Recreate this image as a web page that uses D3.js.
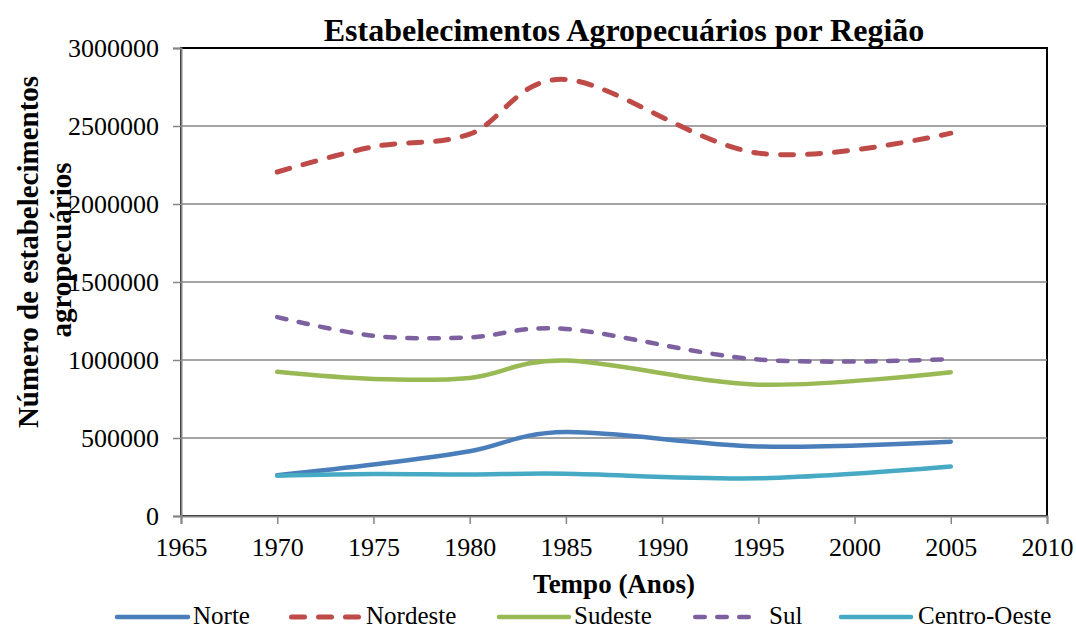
<!DOCTYPE html>
<html>
<head>
<meta charset="utf-8">
<script src="https://cdn.jsdelivr.net/npm/d3@7"></script>
<style>
  body { margin: 0; background: #fff; }
  svg text { font-family: "Liberation Serif", "Times New Roman", serif; fill: #000; }
</style>
</head>
<body>
<div id="chart"></div>
<script>
// dados (censos agropecuários)
const anos = [1970, 1975, 1980, 1985, 1995, 2005];
const norte = [262000, 330000, 415000, 538000, 446000, 476000];
const nordeste = [2205000, 2367000, 2448000, 2798000, 2326000, 2454000];
const sudeste = [924000, 878000, 885000, 996000, 842000, 922000];
const sul = [1275000, 1155000, 1145000, 1199000, 1003000, 1006000];
const centroOeste = [258000, 269000, 266000, 271000, 242000, 317000];

const regioes = ["Norte", "Nordeste", "Sudeste", "Sul", "Centro-Oeste"];
const xTicks = [1965, 1970, 1975, 1980, 1985, 1990, 1995, 2000, 2005, 2010];
const yTicks = [0, 500000, 1000000, 1500000, 2000000, 2500000, 3000000];

const series = [
  { valores: norte, cor: "#4a7ebb", largura: 4.5, traco: null },
  { valores: nordeste, cor: "#be4b48", largura: 5, traco: "13,14" },
  { valores: sudeste, cor: "#98b954", largura: 4.5, traco: null },
  { valores: sul, cor: "#7d60a0", largura: 4.5, traco: "9.5,12.5" },
  { valores: centroOeste, cor: "#46aac5", largura: 4.5, traco: null }
];

const width = 1076, height = 630;
const margin = { left: 181, right: 29, top: 48, bottom: 114 };
const plotW = width - margin.left - margin.right;
const plotH = height - margin.top - margin.bottom;

const x = d3.scaleLinear().domain([1965, 2010]).range([0, plotW]);
const y = d3.scaleLinear().domain([0, 3000000]).range([plotH, 0]);

const svg = d3.select("#chart").append("svg")
  .attr("width", width)
  .attr("height", height);

// título
svg.append("text")
  .attr("x", 624)
  .attr("y", 41)
  .attr("text-anchor", "middle")
  .style("font-size", "32px")
  .style("font-weight", "bold")
  .text("Estabelecimentos Agropecuários por Região");

const g = svg.append("g")
  .attr("transform", `translate(${margin.left},${margin.top})`);

// borda da área de plotagem
g.append("rect")
  .attr("width", plotW)
  .attr("height", plotH)
  .attr("fill", "none")
  .attr("stroke", "#000")
  .attr("stroke-width", 2);

// linhas de grade
g.append("g")
  .selectAll("line")
  .data(yTicks.filter(d => d > 0 && d < 3000000))
  .join("line")
  .attr("x1", 0)
  .attr("x2", plotW)
  .attr("y1", d => y(d))
  .attr("y2", d => y(d))
  .attr("stroke", "#868686")
  .attr("stroke-width", 1.5);

// eixo Y
const yAxis = g.append("g")
  .call(d3.axisLeft(y).tickValues(yTicks).tickFormat(d3.format("d")).tickSize(8).tickPadding(14));
yAxis.attr("font-family", null);
yAxis.select(".domain").attr("stroke", "#868686").attr("stroke-width", 2);
yAxis.selectAll(".tick line").attr("stroke", "#868686").attr("stroke-width", 1.5);
yAxis.selectAll(".tick text")
  .style("font-size", "26px")
  .attr("fill", "#000")
  .attr("dy", "0.34em");

// eixo X
const xAxis = g.append("g")
  .attr("transform", `translate(0,${plotH})`)
  .call(d3.axisBottom(x).tickValues(xTicks).tickFormat(d3.format("d")).tickSize(8).tickPadding(14));
xAxis.attr("font-family", null);
xAxis.select(".domain").attr("stroke", "#868686").attr("stroke-width", 2);
xAxis.selectAll(".tick line").attr("stroke", "#868686").attr("stroke-width", 1.5);
xAxis.selectAll(".tick text")
  .style("font-size", "26px")
  .attr("fill", "#000");

// linhas suavizadas
const linha = d3.line()
  .x(d => x(d[0]))
  .y(d => y(d[1]))
  .curve(d3.curveCatmullRom.alpha(0));

g.append("g")
  .selectAll("path")
  .data(series)
  .join("path")
  .attr("d", s => linha(anos.map((a, i) => [a, s.valores[i]])))
  .attr("fill", "none")
  .attr("stroke", s => s.cor)
  .attr("stroke-width", s => s.largura)
  .attr("stroke-linecap", "round")
  .attr("stroke-dasharray", s => s.traco);

// títulos dos eixos
svg.append("text")
  .attr("transform", "translate(38,252) rotate(-90)")
  .attr("text-anchor", "middle")
  .style("font-size", "29px")
  .style("font-weight", "bold")
  .text("Número de estabelecimentos");
svg.append("text")
  .attr("transform", "translate(71,250) rotate(-90)")
  .attr("text-anchor", "middle")
  .style("font-size", "29px")
  .style("font-weight", "bold")
  .text("agropecuários");

svg.append("text")
  .attr("x", 614)
  .attr("y", 593)
  .attr("text-anchor", "middle")
  .style("font-size", "27px")
  .style("font-weight", "bold")
  .text("Tempo (Anos)");

// legenda
const legX = [117, 289, 499, 693, 841];
const legLen = [71, 72, 70, 62, 70];
const legTxt = [193, 366, 574, 769, 918];
const leg = svg.append("g").attr("class", "legenda");
series.forEach((s, i) => {
  leg.append("line")
    .attr("x1", legX[i] + (s.traco ? s.largura / 2 : 0))
    .attr("x2", legX[i] + legLen[i])
    .attr("y1", 617)
    .attr("y2", 617)
    .attr("stroke", s.cor)
    .attr("stroke-width", s.largura)
    .attr("stroke-linecap", "round")
    .attr("stroke-dasharray", s.traco);
  leg.append("text")
    .attr("x", legTxt[i])
    .attr("y", 624)
    .style("font-size", "25px")
    .text(regioes[i]);
});
</script>
</body>
</html>
